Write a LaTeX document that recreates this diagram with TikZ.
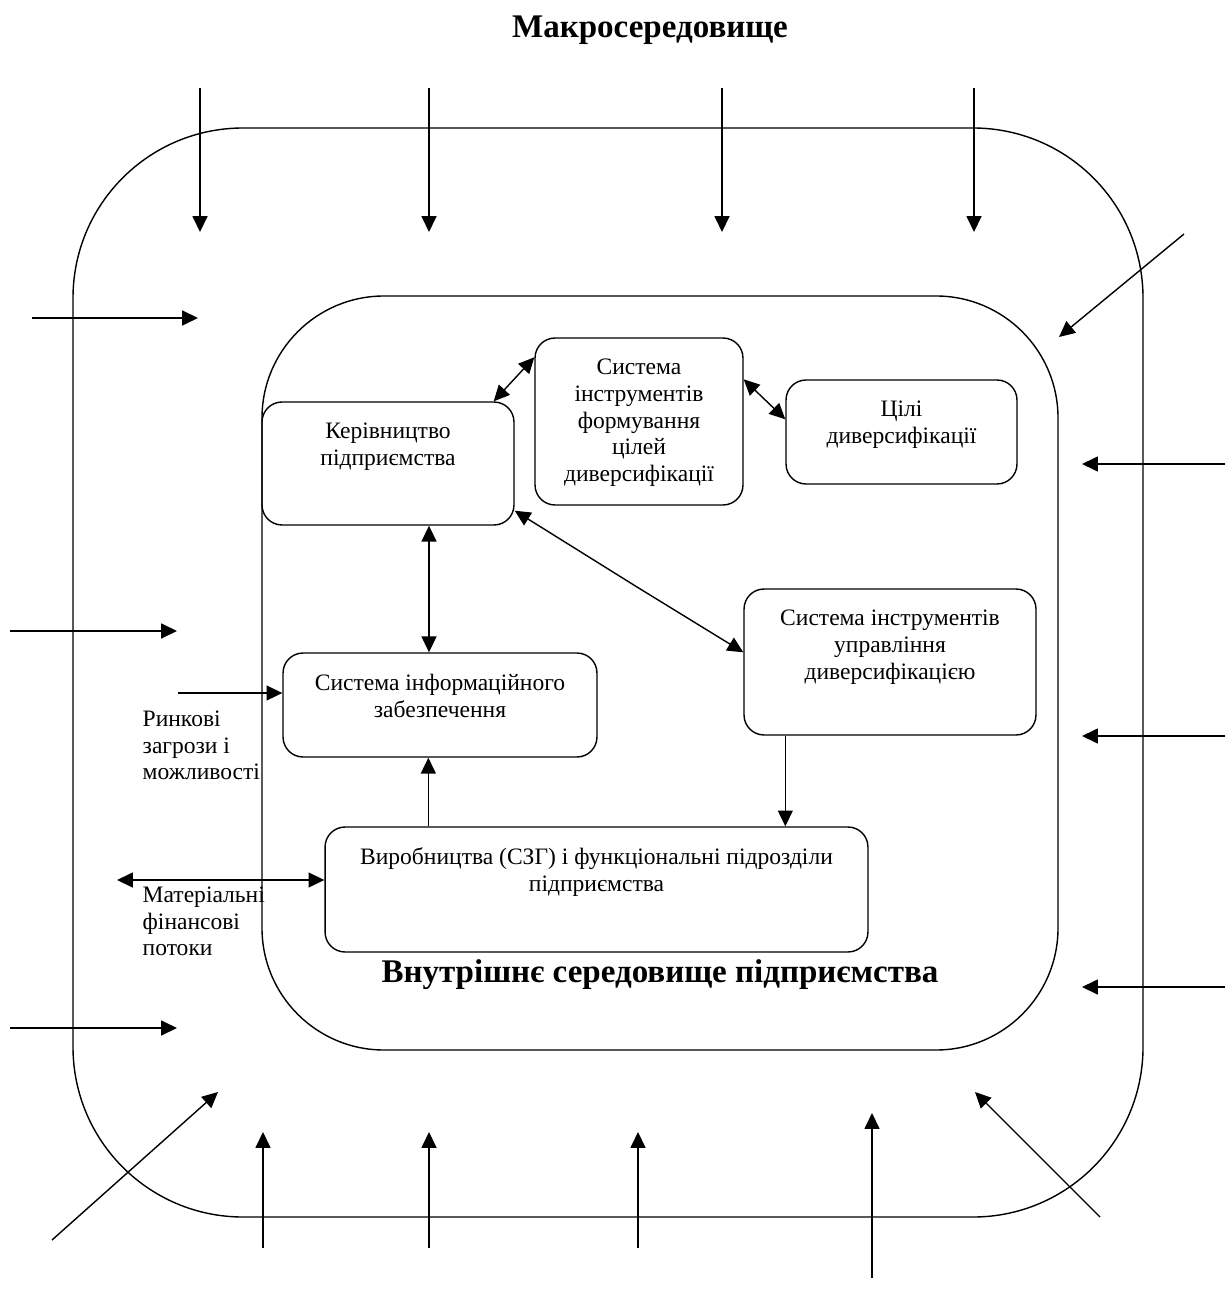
\documentclass[tikz,border=0pt]{standalone}
\usepackage{fontspec}
\setmainfont{Liberation Serif}
\usetikzlibrary{arrows.meta, positioning}

\begin{document}
\begin{tikzpicture}[x=0.02cm, y=-0.02cm, >={Triangle[length=9pt, width=8.5pt]}, line width=0.8pt,
    blok/.style={draw, rectangle, rounded corners=0.4cm, inner sep=0pt},
    lbl/.style={anchor=north, align=center, inner sep=0pt, yshift=-0.42cm, font=\fontsize{13.4}{15.2}\selectfont},
    txt/.style={anchor=north west, align=left, inner sep=0pt, font=\fontsize{13.4}{15.2}\selectfont},
    heading/.style={font=\fontsize{18.8}{22}\selectfont\bfseries}]

    \useasboundingbox (0,0) rectangle (1225,1300);

    % Середовища
    \draw[rounded corners=3.4cm] (73,128) rectangle (1143,1217);
    \draw[rounded corners=2.44cm] (262,296) rectangle (1058,1050);
    \node[heading] (makro) at (650,30) {Макросередовище};
    \node[heading] (vnutr) at (660,975) {Внутрішнє середовище підприємства};

    % Блоки
    \node[blok, minimum width=5.04cm, minimum height=2.46cm, label={[lbl]north:{Керівництво\\підприємства}}] (kerivn) at (388,463.5) {};
    \node[blok, minimum width=4.16cm, minimum height=3.34cm, label={[lbl]north:{Система\\інструментів\\формування\\цілей\\диверсифікації}}] (formuv) at (639,421.5) {};
    \node[blok, minimum width=4.62cm, minimum height=2.08cm, label={[lbl]north:{Цілі\\диверсифікації}}] (tsili) at (901.5,432) {};
    \node[blok, minimum width=6.28cm, minimum height=2.08cm, label={[lbl]north:{Система інформаційного\\забезпечення}}] (inform) at (440,705) {};
    \node[blok, minimum width=5.84cm, minimum height=2.92cm, label={[lbl]north:{Система інструментів\\управління\\диверсифікацією}}] (upravl) at (890,662) {};
    \node[blok, minimum width=10.86cm, minimum height=2.5cm, label={[lbl]north:{Виробництва (СЗГ) і функціональні підрозділи\\підприємства}}] (vyrob) at (596.5,889.5) {};

    % Підписи потоків
    \node[txt] (rynok) at (142,710) {Ринкові\\загрози і\\можливості};
    \node[txt] (potoky) at (142,886) {Матеріальні\\фінансові\\потоки};

    % Зв'язки між блоками
    \draw[<->] ([xshift=-0.42cm]kerivn.north east) -- ([yshift=-0.4cm]formuv.north west);
    \draw[<->] ([yshift=-0.84cm]formuv.north east) -- ([yshift=-0.8cm]tsili.north west);
    \draw[<->] ([yshift=0.3cm]kerivn.south east) -- (637,587) -- ([yshift=-1.28cm]upravl.north west);
    \draw[<->] ([xshift=0.82cm]kerivn.south) -- ([xshift=0.82cm]kerivn.south |- inform.north);
    \draw[->] ([xshift=2.08cm]vyrob.north west) -- ([xshift=2.08cm]vyrob.north west |- inform.south);
    \draw[->] ([xshift=0.84cm]upravl.south west) -- ([xshift=0.84cm]upravl.south west |- vyrob.north);

    % Входи ззовні
    \coordinate (r0) at (178,693);
    \coordinate (p0) at (117,880);
    \draw[->] (r0) -- (r0 -| inform.west);
    \draw[<->] (p0) -- (p0 -| vyrob.west);

    % Вплив макросередовища
    \foreach \x [count=\i] in {200,429,722,974} {
        \coordinate (vs\i) at (\x,88);
        \coordinate (ve\i) at (\x,232);
        \draw[->] (vs\i) -- (ve\i);
    }
    \foreach \x/\y/\e [count=\i] in {32/318/198, 10/631/177, 10/1028/177} {
        \coordinate (ls\i) at (\x,\y);
        \coordinate (le\i) at (\e,\y);
        \draw[->] (ls\i) -- (le\i);
    }
    \foreach \y [count=\i] in {464,736,987} {
        \coordinate (rs\i) at (1225,\y);
        \coordinate (re\i) at (1082,\y);
        \draw[->] (rs\i) -- (re\i);
    }
    \foreach \x/\y/\e [count=\i] in {263/1248/1132, 429/1248/1132, 638/1248/1132, 872/1278/1113} {
        \coordinate (bs\i) at (\x,\y);
        \coordinate (be\i) at (\x,\e);
        \draw[->] (bs\i) -- (be\i);
    }
    \coordinate (d1s) at (1184,234);
    \coordinate (d1e) at (1059,337);
    \coordinate (d2s) at (52,1240);
    \coordinate (d2e) at (218,1092);
    \coordinate (d3s) at (1100,1217);
    \coordinate (d3e) at (975,1092);
    \draw[->] (d1s) -- (d1e);
    \draw[->] (d2s) -- (d2e);
    \draw[->] (d3s) -- (d3e);

\end{tikzpicture}
\end{document}
